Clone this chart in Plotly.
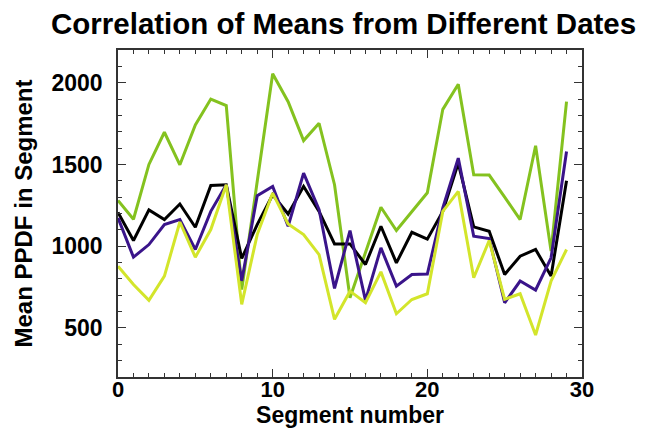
import plotly.graph_objects as go

segments = list(range(30))

green_vals = [1280, 1165, 1500, 1697, 1498, 1742, 1900, 1860, 735, 1396,
              2055, 1884, 1646, 1752, 1376, 685, 959, 1238, 1096, 1213,
              1327, 1837, 1990, 1437, 1435, 1300, 1163, 1614, 970, 1884]

black_vals = [1207, 1035, 1222, 1163, 1258, 1116, 1372, 1376, 925, 1132,
              1315, 1197, 1366, 1213, 1014, 1014, 888, 1122, 898, 1085,
              1043, 1213, 1508, 1118, 1091, 827, 939, 980, 817, 1400]

purple_vals = [1173, 933, 1010, 1132, 1163, 980, 1213, 1376, 788, 1309,
               1366, 1122, 1447, 1224, 742, 1095, 669, 990, 756, 827,
               830, 1234, 1539, 1061, 1047, 654, 787, 732, 929, 1579]

yellow_vals = [878, 766, 669, 817, 1148, 933, 1102, 1376, 644, 1071,
               1325, 1136, 1071, 949, 553, 725, 654, 843, 587, 674,
               709, 1213, 1335, 807, 1035, 675, 709, 457, 787, 980]

x_ticks = [0, 10, 20, 30]
y_ticks = [500, 1000, 1500, 2000]

series = [
    ("green", green_vals, "#84c21f"),
    ("black", black_vals, "#000000"),
    ("purple", purple_vals, "#3a148a"),
    ("yellow", yellow_vals, "#d3e52b"),
]

fig = go.Figure()
for name, vals, col in series:
    fig.add_trace(go.Scatter(x=segments, y=vals, mode="lines", name=name,
                             line=dict(color=col, width=3), showlegend=False))

font_family = "Liberation Sans, Arial, Helvetica, sans-serif"

axis_common = dict(
    showgrid=False, zeroline=False, showline=True, linecolor="#333333",
    linewidth=1.5, mirror="ticks", ticks="inside", ticklen=8, tickwidth=1.2,
    tickcolor="#333333",
)

fig.update_xaxes(range=[0, 30], tickvals=x_ticks,
                 tickfont=dict(family=font_family, size=22, color="black", weight="bold"),
                 ticklabelstandoff=-8,
                 minor=dict(dtick=1, ticks="inside", ticklen=4, tickcolor="#333333", tickwidth=1),
                 title=dict(text="Segment number", standoff=0,
                            font=dict(family=font_family, size=23, color="black", weight="bold")),
                 **axis_common)
fig.update_yaxes(range=[200, 2200], tickvals=y_ticks,
                 tickfont=dict(family=font_family, size=23, color="black", weight="bold"),
                 ticklabelstandoff=9,
                 minor=dict(dtick=100, ticks="inside", ticklen=4, tickcolor="#333333", tickwidth=1),
                 title=dict(text="Mean PPDF in Segment", standoff=12,
                            font=dict(family=font_family, size=24, color="black", weight="bold")),
                 **axis_common)

fig.add_annotation(text="Correlation of Means from Different Dates",
                   xref="paper", yref="paper", x=0.485, y=1.08,
                   xanchor="center", yanchor="middle", showarrow=False,
                   font=dict(family=font_family, size=29.5, color="black", weight="bold"))

fig.update_layout(
    width=652, height=433,
    margin=dict(l=110, r=78, t=42, b=64),
    plot_bgcolor="white", paper_bgcolor="white",
)

fig.write_html("out.html")
